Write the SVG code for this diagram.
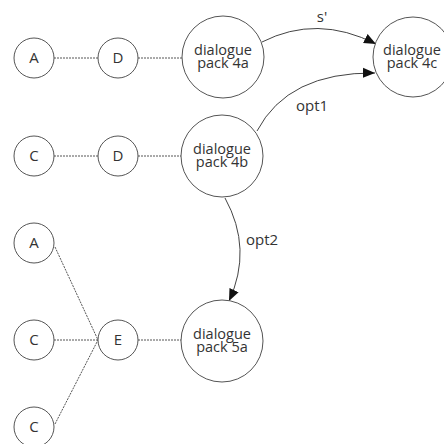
<svg xmlns="http://www.w3.org/2000/svg" width="444" height="444" viewBox="0 0 444 444">
<style>
.n circle{fill:#fff;stroke:#555;stroke-width:1}
text{font-family:"Open Sans","Liberation Sans",sans-serif;font-size:15px;fill:#333;text-anchor:middle}
.n text.t{font-size:14.5px}
.d{stroke:#555;stroke-width:1;stroke-dasharray:2 1;fill:none}
.e{stroke:#444;stroke-width:1;fill:none;marker-end:url(#ah)}
</style>
<defs>
<marker id="ah" markerUnits="userSpaceOnUse" markerWidth="14" markerHeight="12" refX="12" refY="5" orient="auto" viewBox="0 0 14 10">
<path d="M0,0 L12,5 L0,10 Z" fill="#111"/>
</marker>
</defs>
<g id="connectors">
<line class="d" x1="54" y1="58" x2="98" y2="58"/>
<line class="d" x1="138" y1="58" x2="182" y2="58"/>
<line class="d" x1="54" y1="156" x2="98" y2="156"/>
<line class="d" x1="138" y1="156" x2="181" y2="156"/>
<line class="d" x1="55" y1="247" x2="98" y2="340"/>
<line class="d" x1="54" y1="340" x2="98" y2="340"/>
<line class="d" x1="55" y1="424" x2="98" y2="340"/>
<line class="d" x1="138" y1="340" x2="181" y2="340"/>
<path class="e" d="M262,42 Q317,14 376,44"/>
<path class="e" d="M257,131 Q288,72 375,73"/>
<path class="e" d="M225,198 Q253,249 229,301"/>
<text x="322" y="22">s'</text>
<text x="312" y="111">opt1</text>
<text x="262" y="245">opt2</text>
</g>
<g id="n1" class="n"><circle cx="34" cy="58" r="20"/><text x="34" y="63">A</text></g>
<g id="n2" class="n"><circle cx="118" cy="58" r="20"/><text x="118" y="63">D</text></g>
<g id="n3" class="n"><circle cx="223" cy="57" r="41"/><text class="t" x="223" y="55">dialogue</text><text class="t" x="223" y="68">pack 4a</text></g>
<g id="n4" class="n"><circle cx="413" cy="57" r="40"/><text class="t" x="412" y="55">dialogue</text><text class="t" x="412" y="68">pack 4c</text></g>
<g id="n5" class="n"><circle cx="34" cy="156" r="20"/><text x="34" y="161">C</text></g>
<g id="n6" class="n"><circle cx="118" cy="156" r="20"/><text x="118" y="161">D</text></g>
<g id="n7" class="n"><circle cx="222" cy="156" r="41"/><text class="t" x="222" y="154">dialogue</text><text class="t" x="222" y="167">pack 4b</text></g>
<g id="n8" class="n"><circle cx="34" cy="243" r="20"/><text x="34" y="248">A</text></g>
<g id="n9" class="n"><circle cx="34" cy="340" r="20"/><text x="34" y="345">C</text></g>
<g id="n10" class="n"><circle cx="118" cy="340" r="20"/><text x="118" y="345">E</text></g>
<g id="n11" class="n"><circle cx="34" cy="427" r="20"/><text x="34" y="432">C</text></g>
<g id="n12" class="n"><circle cx="222" cy="341" r="41"/><text class="t" x="222" y="339">dialogue</text><text class="t" x="222" y="352">pack 5a</text></g>
</svg>
